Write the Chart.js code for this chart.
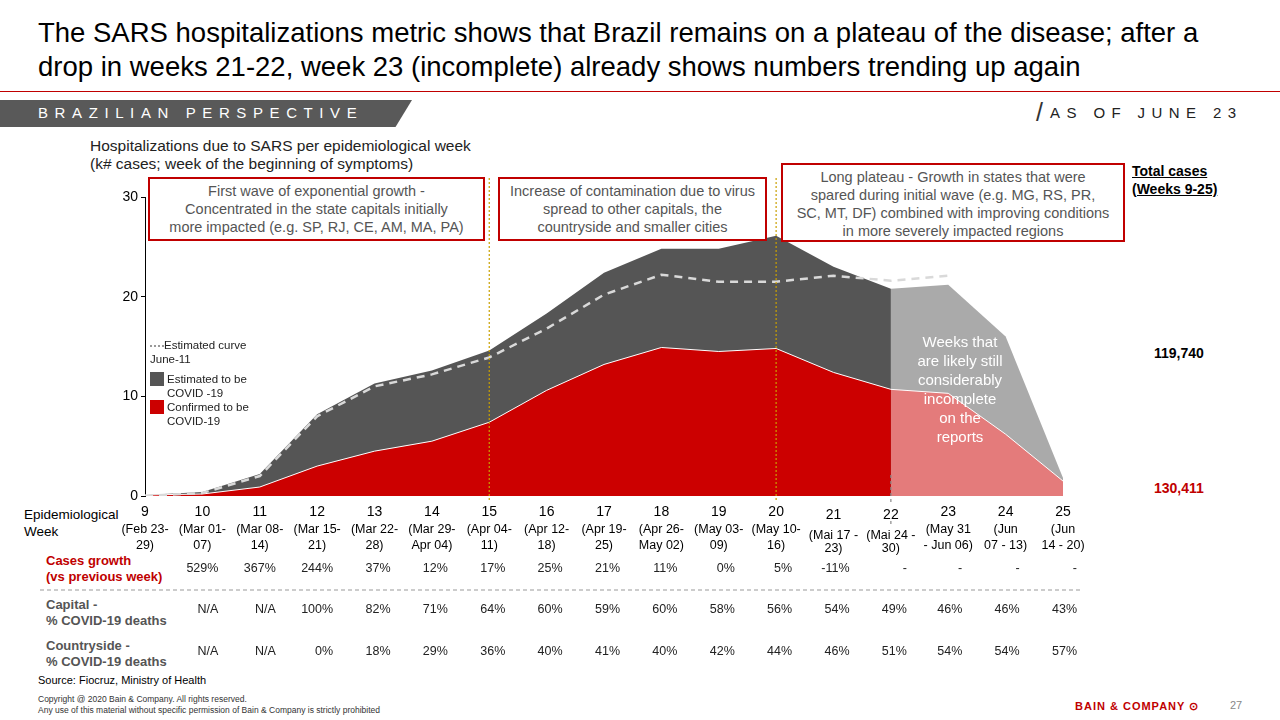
<!DOCTYPE html>
<html><head><meta charset="utf-8">
<script src="https://cdn.jsdelivr.net/npm/chart.js@4"></script>
<style>
body{margin:0;width:1280px;height:720px;position:relative;font-family:Arial,"Liberation Sans",sans-serif;background:#fff;overflow:hidden}
.a{position:absolute}
.box{position:absolute;border:2px solid #c00000;background:#fff;color:#555;font-size:14.5px;text-align:center;line-height:18px;box-sizing:border-box;padding-top:3px;z-index:2}
</style></head><body>
<div class="a" style="left:38px;top:16px;width:1200px;font-size:27.5px;line-height:34px;color:#000">The SARS hospitalizations metric shows that Brazil remains on a plateau of the disease; after a<br>drop in weeks 21-22, week 23 (incomplete) already shows numbers trending up again</div>
<div class="a" style="left:0;top:91px;width:1280px;height:1px;background:#c00000"></div>
<div class="a" style="left:0;top:100px;width:412px;height:27px;background:#595959;clip-path:polygon(0 0,100% 0,96% 100%,0 100%)"></div>
<div class="a" style="left:38px;top:104px;color:#fff;font-size:15px;letter-spacing:6.6px">BRAZILIAN PERSPECTIVE</div>
<div class="a" style="left:1036px;top:98px;font-size:25px;color:#333;font-weight:300">/</div>
<div class="a" style="left:1050px;top:104px;font-size:15px;letter-spacing:6.4px;color:#222">AS OF JUNE 23</div>
<div class="a" style="left:90px;top:137px;font-size:15.5px;line-height:18px;color:#222">Hospitalizations due to SARS per epidemiological week<br>(k# cases; week of the beginning of symptoms)</div>
<div class="box" style="left:148px;top:177px;width:337px;height:64px">First wave of exponential growth -<br>Concentrated in the state capitals initially<br>more impacted (e.g. SP, RJ, CE, AM, MA, PA)</div>
<div class="box" style="left:498px;top:177px;width:269px;height:64px">Increase of contamination due to virus<br>spread to other capitals, the<br>countryside and smaller cities</div>
<div class="box" style="left:781px;top:163px;width:344px;height:79px">Long plateau - Growth in states that were<br>spared during initial wave (e.g. MG, RS, PR,<br>SC, MT, DF) combined with improving conditions<br>in more severely impacted regions</div>
<div class="a" style="left:1132px;top:162px;font-size:14px;font-weight:bold;text-decoration:underline;line-height:18px">Total cases<br>(Weeks 9-25)</div>
<div class="a" style="left:1154px;top:345px;font-size:14px;font-weight:bold">119,740</div>
<div class="a" style="left:1154px;top:480px;font-size:14px;font-weight:bold;color:#c00000">130,411</div>
<div class="a" style="left:150px;top:338px;font-size:11.5px;line-height:14px;color:#222;z-index:2">
<div><span style="display:inline-block;width:14px;border-top:2px dotted #999;vertical-align:middle"></span>Estimated curve<br>June-11</div>
<div style="margin-top:6px"><span style="display:inline-block;width:14px;height:14px;background:#555;vertical-align:top;margin-right:3px"></span><span style="display:inline-block">Estimated to be<br>COVID -19</span></div>
<div><span style="display:inline-block;width:14px;height:14px;background:#cc0000;vertical-align:top;margin-right:3px"></span><span style="display:inline-block">Confirmed to be<br>COVID-19</span></div></div>
<div class="a" style="left:890px;top:332px;width:140px;text-align:center;color:#fff;font-size:15px;line-height:19px;z-index:2">Weeks that<br>are likely still<br>considerably<br>incomplete<br>on the<br>reports</div>
<div class="a" style="left:24px;top:506px;font-size:13.5px;line-height:17px">Epidemiological<br>Week</div>
<div class="a" style="left:46px;top:553px;font-size:13px;line-height:16px;font-weight:bold;color:#c00000">Cases growth<br>(vs previous week)</div>
<div class="a" style="left:46px;top:597px;font-size:13px;line-height:16px;font-weight:bold;color:#555">Capital -<br>% COVID-19 deaths</div>
<div class="a" style="left:46px;top:638px;font-size:13px;line-height:16px;font-weight:bold;color:#555">Countryside -<br>% COVID-19 deaths</div>
<div class="a" style="left:38px;top:674px;font-size:11px">Source: Fiocruz, Ministry of Health</div>
<div class="a" style="left:38px;top:694px;font-size:8.5px;line-height:11px;color:#333">Copyright @ 2020 Bain &amp; Company. All rights reserved.<br>Any use of this material without specific permission of Bain &amp; Company is strictly prohibited</div>
<div class="a" style="left:1075px;top:700px;font-size:11px;font-weight:bold;color:#c00000;letter-spacing:1px">BAIN &amp; COMPANY ⊙</div>
<div class="a" style="left:1230px;top:699px;font-size:11px;color:#888">27</div>
<canvas id="c" class="a" style="left:0;top:0;z-index:1" width="1280" height="720"></canvas>
<script>
const weeks=[9,10,11,12,13,14,15,16,17,18,19,20,21,22,23,24,25];
const estimatedDark=[0.1,0.4,2.2,8.2,11.3,12.6,14.6,18.3,22.4,24.8,24.8,26.1,23.0,20.8,null,null,null];
const estimatedLight=[null,null,null,null,null,null,null,null,null,null,null,null,null,20.8,21.2,16.0,1.8];
const confirmedDark=[0.1,0.2,0.9,3.0,4.5,5.5,7.4,10.6,13.2,14.9,14.5,14.8,12.4,10.7,null,null,null];
const confirmedLight=[null,null,null,null,null,null,null,null,null,null,null,null,null,10.7,10.3,6.2,1.5];
const estCurveJun11=[0,0.3,2.0,8.0,11.0,12.2,13.9,16.8,20.2,22.2,21.5,21.5,22.1,21.6,22.1,null,null];
const dateLine1=["(Feb 23-","(Mar 01-","(Mar 08-","(Mar 15-","(Mar 22-","(Mar 29-","(Apr 04-","(Apr 12-","(Apr 19-","(Apr 26-","(May 03-","(May 10-","(Mai 17 -","(Mai 24 -","(May 31","(Jun","(Jun"];
const dateLine2=["29)","07)","14)","21)","28)","Apr 04)","11)","18)","25)","May 02)","09)","16)","23)","30)","- Jun 06)","07 - 13)","14 - 20)"];
const casesGrowth=["","529%","367%","244%","37%","12%","17%","25%","21%","11%","0%","5%","-11%","-","-","-","-"];
const capitalPct=["","N/A","N/A","100%","82%","71%","64%","60%","59%","60%","58%","56%","54%","49%","46%","46%","43%"];
const countrysidePct=["","N/A","N/A","0%","18%","29%","36%","40%","41%","40%","42%","44%","46%","51%","54%","54%","57%"];
const yTicks=[0,10,20,30];
const pts=a=>weeks.map((w,i)=>({x:w,y:a[i]}));
const tablePlugin={id:'t',afterDraw(ch){const c=ch.ctx,x=ch.scales.x;c.save();
 c.setLineDash([2,2]);c.strokeStyle='#c9a000';c.lineWidth=1.2;
 [15,20].forEach(w=>{const px=x.getPixelForValue(w);c.beginPath();c.moveTo(px,178);c.lineTo(px,500);c.stroke();});
 c.strokeStyle='#888';c.setLineDash([3,3]);const p22=x.getPixelForValue(22);c.beginPath();c.moveTo(p22,475);c.lineTo(p22,505);c.moveTo(p22,521);c.lineTo(p22,527);c.stroke();
 c.setLineDash([4,3]);c.strokeStyle='#999';c.beginPath();c.moveTo(40,590);c.lineTo(1082,590);c.stroke();c.setLineDash([]);
 c.textAlign='center';c.textBaseline='middle';
 weeks.forEach((w,i)=>{const px=x.getPixelForValue(w);const off=(w===21||w===22)?3:0;
  c.font='14px Arial';c.fillStyle='#000';c.fillText(String(w),px,512+off);
  c.font='12.5px Arial';c.fillText(dateLine1[i],px,530+off*2);c.fillText(dateLine2[i],px,546+off);
  c.textAlign='right';c.fillStyle='#222';
  const rx=px+(w>=23?14:16);
  if(casesGrowth[i])c.fillText(casesGrowth[i],rx,569);
  c.fillText(capitalPct[i],rx,610);c.fillText(countrysidePct[i],rx,652);c.textAlign='center';});
 c.restore();}};
new Chart(document.getElementById('c'),{type:'line',
 data:{datasets:[
  {data:pts(confirmedDark),fill:'origin',backgroundColor:'#cc0000',borderColor:'#fff',borderWidth:1,pointRadius:0,tension:0,order:1},
  {data:pts(confirmedLight),fill:'origin',backgroundColor:'#e47b7b',borderColor:'#fff',borderWidth:1,pointRadius:0,order:1},
  {data:pts(estCurveJun11),fill:false,borderColor:'#d9d9d9',borderWidth:2.5,borderDash:[8,6],pointRadius:0,order:0},
  {data:pts(estimatedDark),fill:'origin',backgroundColor:'#555555',borderWidth:0,pointRadius:0,order:3},
  {data:pts(estimatedLight),fill:'origin',backgroundColor:'#aaaaaa',borderWidth:0,pointRadius:0,order:3}]},
 options:{responsive:false,animation:false,spanGaps:false,
  layout:{padding:{top:197,right:217,bottom:224,left:0}},
  plugins:{legend:{display:false},tooltip:{enabled:false}},
  scales:{x:{type:'linear',min:9,max:25,display:false},
   y:{min:0,max:30,afterFit(s){s.width=145;},afterBuildTicks(s){s.ticks=yTicks.map(v=>({value:v}));},
    grid:{drawOnChartArea:false,tickLength:4,color:'#000'},border:{color:'#000'},
    ticks:{color:'#000',font:{size:14,family:'Arial'}}}}},
 plugins:[tablePlugin]});
</script></body></html>
